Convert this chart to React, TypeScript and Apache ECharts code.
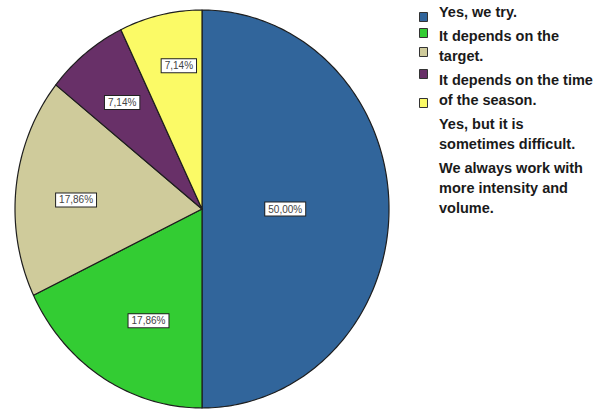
import React, { useEffect, useRef } from "react";
import * as echarts from "echarts";

// ---- data ----
const categories = [
  "Yes, we try.",
  "It depends on the\ntarget.",
  "It depends on the time\nof the season.",
  "Yes, but it is\nsometimes difficult.",
  "We always work with\nmore intensity and\nvolume.",
];
const percents = [50.0, 17.86, 17.86, 7.14, 7.14];

// ---- styles / layout ----
const sliceColors = ["#31659b", "#33cc33", "#cfcb9b", "#683068", "#fbfa66"];
const labelRadiusFactor = [0.445, 0.63, 0.675, 0.685, 0.73];
const labelAngleFraction = [0.5, 0.42, 0.46, 0.5, 0.62];
const legendBoxTops = [12, 28, 47, 69, 98];
const CX = 202;
const CY = 209;
const RX = 187;
const RY = 199;

export default function App() {
  const ref = useRef<HTMLDivElement>(null);

  useEffect(() => {
    if (!ref.current) return;
    const chart = echarts.init(ref.current, undefined, { renderer: "svg" });
    const total = percents.reduce((a, b) => a + b, 0);

    // legend texts
    const legendTexts: any[] = [];
    let centerY = 12;
    categories.forEach((c) => {
      const lines = c.split("\n").length;
      legendTexts.push({
        type: "text",
        x: 439,
        y: centerY - 10,
        style: {
          text: c,
          font: "bold 14.5px 'Liberation Sans', Arial, sans-serif",
          fill: "#1a1a1a",
          lineHeight: 20,
          verticalAlign: "top",
          align: "left",
        },
      });
      centerY += lines * 20 + 4;
    });

    const legendBoxes = legendBoxTops.map((t, i) => ({
      type: "rect",
      shape: { x: 419.5, y: t + 0.5, width: 8, height: 9 },
      style: { fill: sliceColors[i], stroke: "#333", lineWidth: 1 },
    }));

    chart.setOption({
      animation: false,
      backgroundColor: "#ffffff",
      graphic: [...legendBoxes, ...legendTexts],
      series: [
        {
          type: "custom",
          coordinateSystem: "none",
          data: percents.map((p) => [p]),
          renderItem: (params: any, api: any) => {
            const i = params.dataIndex;
            let before = 0;
            for (let k = 0; k < i; k++) before += percents[k];
            const v = api.value(0);
            const start = (before / total) * Math.PI * 2;
            const end = ((before + v) / total) * Math.PI * 2;
            const n = Math.max(6, Math.ceil(((end - start) * 180) / Math.PI));
            const pts: number[][] = [[CX, CY]];
            for (let j = 0; j <= n; j++) {
              const t = start + ((end - start) * j) / n;
              pts.push([CX + RX * Math.sin(t), CY - RY * Math.cos(t)]);
            }
            const la = start + (end - start) * labelAngleFraction[i];
            const kf = labelRadiusFactor[i];
            const lx = CX + RX * kf * Math.sin(la);
            const ly = CY - RY * kf * Math.cos(la);
            return {
              type: "group",
              children: [
                {
                  type: "polygon",
                  z2: 1,
                  shape: { points: pts },
                  style: {
                    fill: sliceColors[i],
                    stroke: "#1e1e1e",
                    lineWidth: 1.2,
                    lineJoin: "round",
                  },
                },
                {
                  type: "text",
                  z2: 100,
                  x: lx,
                  y: ly,
                  style: {
                    text: v.toFixed(2).replace(".", ",") + "%",
                    font: "10px 'Liberation Sans', Arial, sans-serif",
                    fill: "#444",
                    align: "center",
                    verticalAlign: "middle",
                    backgroundColor: "#ffffff",
                    borderColor: "#222",
                    borderWidth: 1,
                    padding: [2, 3, 1, 3],
                  },
                },
              ],
            };
          },
        },
      ],
    });

    return () => chart.dispose();
  }, []);

  return (
    <div
      ref={ref}
      style={{ position: "fixed", left: 0, top: 0, width: 603, height: 411 }}
    />
  );
}
